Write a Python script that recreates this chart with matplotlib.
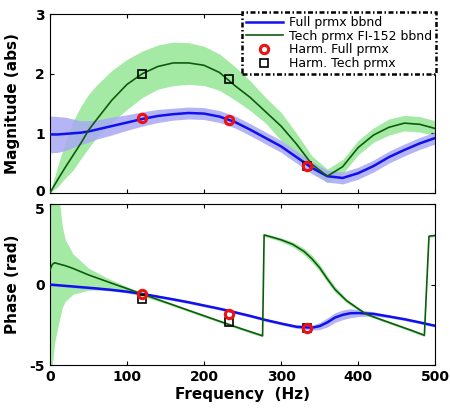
import matplotlib
matplotlib.use("Agg")
import matplotlib.pyplot as plt
import matplotlib.transforms as mtransforms
import numpy as np

# ---- magnitude data (Hz, abs) ----
freq_mag = [0, 10, 20, 30, 40, 50, 60, 80, 100, 120, 140, 160, 180, 200, 220, 240,
            260, 280, 300, 320, 340, 360, 380, 400, 420, 440, 460, 480, 500]
full_mag = [0.98, 0.98, 0.99, 1.0, 1.01, 1.03, 1.06, 1.12, 1.18, 1.24, 1.29, 1.32, 1.34,
            1.33, 1.28, 1.19, 1.06, 0.92, 0.78, 0.6, 0.42, 0.28, 0.25, 0.33, 0.45, 0.6,
            0.72, 0.83, 0.92]
full_mag_hw = [0.31, 0.3, 0.28, 0.24, 0.2, 0.18, 0.16, 0.15, 0.13, 0.12, 0.11, 0.1, 0.1,
               0.1, 0.1, 0.1, 0.1, 0.1, 0.1, 0.1, 0.1, 0.1, 0.1, 0.1, 0.1, 0.1, 0.1, 0.1, 0.1]
tech_mag = [0.0, 0.22, 0.43, 0.63, 0.83, 1.05, 1.22, 1.55, 1.82, 2.0, 2.12, 2.18, 2.18,
            2.14, 2.02, 1.8, 1.6, 1.36, 1.12, 0.82, 0.48, 0.28, 0.44, 0.76, 0.97, 1.1,
            1.17, 1.15, 1.08]
tech_mag_hi = [0.0, 0.45, 0.85, 1.2, 1.45, 1.65, 1.8, 2.05, 2.24, 2.38, 2.48, 2.53, 2.52,
               2.46, 2.33, 2.12, 1.88, 1.6, 1.35, 1.0, 0.62, 0.4, 0.56, 0.88, 1.09, 1.24,
               1.3, 1.28, 1.21]
tech_mag_lo = [0.0, 0.1, 0.25, 0.38, 0.57, 0.75, 0.92, 1.18, 1.4, 1.6, 1.74, 1.8, 1.82,
               1.8, 1.72, 1.56, 1.38, 1.17, 0.88, 0.64, 0.36, 0.17, 0.32, 0.64, 0.85, 0.97,
               1.04, 1.02, 0.96]

# ---- phase data (Hz, rad) ----
freq_ph_full = [0, 20, 40, 60, 80, 100, 120, 140, 160, 180, 200, 220, 240, 260, 280, 300,
                320, 340, 350, 360, 370, 380, 390, 400, 420, 440, 460, 480, 500]
full_ph = [0.0, -0.08, -0.16, -0.24, -0.33, -0.44, -0.58, -0.75, -0.92, -1.1, -1.3, -1.5,
           -1.72, -1.95, -2.2, -2.42, -2.62, -2.68, -2.58, -2.35, -2.05, -1.88, -1.78, -1.77,
           -1.82, -1.98, -2.15, -2.35, -2.56]
full_ph_hw = [0.08, 0.08, 0.08, 0.08, 0.08, 0.08, 0.08, 0.08, 0.08, 0.08, 0.08, 0.08, 0.08,
              0.08, 0.08, 0.08, 0.1, 0.15, 0.22, 0.28, 0.3, 0.3, 0.28, 0.22, 0.12, 0.08,
              0.08, 0.08, 0.08]

freq_ph_tech = [0, 3, 6, 10, 16, 20, 30, 50, 75, 100, 125, 150, 175, 200, 225, 250, 276,
                278, 290, 300, 315, 330, 340, 350, 360, 370, 385, 400, 411, 430, 450, 470,
                486, 492, 500]
tech_ph = [0.9, 1.25, 1.35, 1.3, 1.22, 1.17, 1.0, 0.6, 0.17, -0.25, -0.68, -1.1, -1.52,
           -1.94, -2.36, -2.77, -3.18, 3.08, 2.92, 2.78, 2.5, 2.05, 1.6, 1.05, 0.35, -0.3,
           -1.0, -1.5, -1.85, -2.18, -2.52, -2.86, -3.15, 3.0, 3.05]
tech_ph_up = [6.0, 6.0, 6.0, 5.0, 2.4, 1.6, 0.9, 0.42, 0.22, 0.12, 0.1, 0.08, 0.08, 0.08,
              0.08, 0.08, 0.08, 0.1, 0.1, 0.12, 0.15, 0.2, 0.22, 0.22, 0.2, 0.18, 0.12, 0.1,
              0.08, 0.08, 0.08, 0.08, 0.08, 0.08, 0.08]
tech_ph_dn = [6.0, 6.3, 5.0, 4.0, 2.65, 2.2, 1.6, 0.95, 0.5, 0.25, 0.12, 0.08, 0.08, 0.08,
              0.08, 0.08, 0.08, 0.1, 0.1, 0.12, 0.15, 0.2, 0.22, 0.22, 0.2, 0.18, 0.12, 0.1,
              0.08, 0.08, 0.08, 0.08, 0.08, 0.08, 0.08]

# ---- harmonic estimates ----
harm_freq = [119, 233, 334]
harm_full_mag = [1.25, 1.22, 0.45]
harm_tech_mag = [2.0, 1.91, 0.45]
harm_full_ph = [-0.6, -1.8, -2.7]
harm_tech_ph = [-0.9, -2.3, -2.7]

blue = "#1010ee"
blue_band = "#a8a8f4"
green = "#0d5c0d"
green_band = "#a4eaa4"

fig = plt.figure(figsize=(4.5, 4.13), dpi=100)
ax1 = fig.add_axes([0.111, 0.533, 0.856, 0.433])
ax2 = fig.add_axes([0.111, 0.116, 0.856, 0.39])

fm = np.array(freq_mag)
fmag = np.array(full_mag)
fhw = np.array(full_mag_hw)
ax1.fill_between(fm, tech_mag_lo, tech_mag_hi, color=green_band, lw=0, zorder=1)
ax1.fill_between(fm, fmag - fhw, fmag + fhw, color=blue_band, lw=0, alpha=0.85, zorder=2)
ax1.plot(fm, fmag, color=blue, lw=1.8, zorder=3, label="Full prmx bbnd")
ax1.plot(fm, tech_mag, color=green, lw=1.2, zorder=4, label="Tech prmx FI-152 bbnd")
ax1.plot(harm_freq, harm_full_mag, "o", ms=6, mfc="none", mec="#ee1111", mew=2.2,
         zorder=6, label="Harm. Full prmx")
ax1.plot(harm_freq, harm_tech_mag, "s", ms=5.5, mfc="none", mec="black", mew=1.2,
         zorder=5, label="Harm. Tech prmx")

fp = np.array(freq_ph_full)
fph = np.array(full_ph)
fphw = np.array(full_ph_hw)
ft = np.array(freq_ph_tech)
tph = np.array(tech_ph)
ax2.fill_between(ft, tph - np.array(tech_ph_dn), tph + np.array(tech_ph_up),
                 color=green_band, lw=0, zorder=1)
ax2.fill_between(fp, fph - fphw, fph + fphw, color=blue_band, lw=0, alpha=0.85, zorder=2)
ax2.plot(fp, fph, color=blue, lw=1.8, zorder=3)
ax2.plot(ft, tph, color=green, lw=1.2, zorder=4)
ax2.plot(harm_freq, harm_tech_ph, "s", ms=5.5, mfc="none", mec="black", mew=1.2, zorder=5)
ax2.plot(harm_freq, harm_full_ph, "o", ms=6, mfc="none", mec="#ee1111", mew=2.2, zorder=6)

for ax in (ax1, ax2):
    ax.set_xlim(0, 500)
    ax.set_xticks([0, 100, 200, 300, 400, 500])
    ax.tick_params(direction="in", top=True, right=True, length=3, labelsize=10)
    for lab in ax.get_xticklabels() + ax.get_yticklabels():
        lab.set_fontweight("bold")

ax1.set_ylim(0, 3)
ax1.set_yticks([0, 1, 2, 3])
ax1.set_yticklabels(["0", "1", "2", "3"], fontweight="bold")
ax1.set_xticklabels([])
ax1.set_ylabel("Magnitude (abs)", fontsize=11, fontweight="bold")
ax1.yaxis.set_label_coords(-0.078, 0.5)

ax2.set_ylim(-5, 5)
ax2.set_yticks([-5, 0, 5])
ax2.set_yticklabels(["-5", "0", "5"], fontweight="bold")
ax2.set_ylabel("Phase (rad)", fontsize=11, fontweight="bold")
ax2.yaxis.set_label_coords(-0.078, 0.5)
ax2.set_xlabel("Frequency  (Hz)", fontsize=11, fontweight="bold", labelpad=2)

# nudge the two touching tick labels apart a little
lab0 = ax1.get_yticklabels()[0]
lab0.set_transform(lab0.get_transform() +
                   mtransforms.ScaledTranslation(0, 2 / 72, fig.dpi_scale_trans))
lab5 = ax2.get_yticklabels()[-1]
lab5.set_transform(lab5.get_transform() +
                   mtransforms.ScaledTranslation(0, -3 / 72, fig.dpi_scale_trans))

leg = ax1.legend(loc="upper right", bbox_to_anchor=(1.003, 1.01), fontsize=9,
                 frameon=True, fancybox=False, labelspacing=0.05, handlelength=3.0,
                 handletextpad=0.5, borderpad=0.3, borderaxespad=0.0)
frame = leg.get_frame()
frame.set_edgecolor("black")
frame.set_linewidth(1.8)
frame.set_linestyle((0, (2, 1, 0.6, 1)))
frame.set_alpha(1)

fig.savefig("out.png", dpi=100)
